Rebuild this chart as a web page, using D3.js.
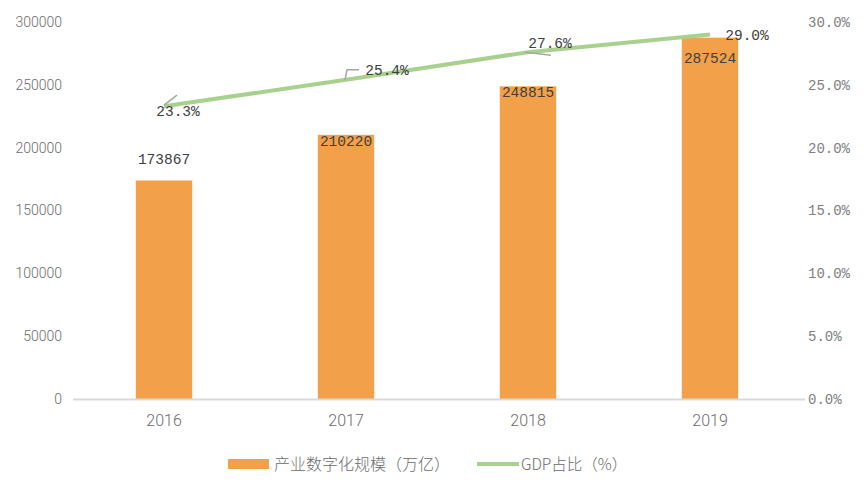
<!DOCTYPE html>
<html><head><meta charset="utf-8">
<script src="https://cdn.jsdelivr.net/npm/d3@7"></script>
<style>body{margin:0;background:#fff;}svg{display:block;}</style>
</head><body>
<svg id="c" width="864" height="493"></svg>
<script>
const years = ["2016","2017","2018","2019"];
const scaleValues = [173867, 210220, 248815, 287524];
const gdpShare = [23.3, 25.4, 27.6, 29.0];
const leftTicks = [0, 50000, 100000, 150000, 200000, 250000, 300000];
const rightTicks = [0, 5, 10, 15, 20, 25, 30];
const seriesNames = ["产业数字化规模（万亿）", "GDP占比（%）"];

const svg = d3.select("#c");
const L = 73, R = 801, T = 22, B = 399;
const x = d3.scaleBand().domain(years).range([L, R]).paddingInner(0.69).paddingOuter(0.345);
const y = d3.scaleLinear().domain([0, 300000]).range([B, T]);
const y2 = d3.scaleLinear().domain([0, 30]).range([B, T]);
const orange = "#F2A14A", green = "#A9D18E", axisCol = "#6b6b6b";
const font = "Roboto, 'Liberation Sans', sans-serif";
const mono = "'Liberation Mono', 'DejaVu Sans Mono', monospace";

// left axis
const la = svg.append("g").attr("transform", `translate(${L},0)`)
  .call(d3.axisLeft(y).tickValues(leftTicks).tickSize(0).tickPadding(11).tickFormat(d3.format("d")));
la.select(".domain").remove();
la.selectAll("text").attr("fill", axisCol).style("font-family", font).style("font-size", "14px").style("font-weight", 300);

// right axis
const ra = svg.append("g").attr("transform", `translate(${805},0)`)
  .call(d3.axisRight(y2).tickValues(rightTicks).tickSize(0).tickPadding(3).tickFormat(d => d3.format(".1f")(d) + "%"));
ra.select(".domain").remove();
ra.selectAll("text").attr("fill", "#808080").style("font-family", mono).style("font-size", "14px");

// bars
svg.append("g").selectAll("rect").data(years).join("rect")
  .attr("x", d => x(d)).attr("width", x.bandwidth())
  .attr("y", (d, i) => y(scaleValues[i])).attr("height", (d, i) => B - y(scaleValues[i]))
  .attr("fill", orange);

// x axis
const xa = svg.append("g").attr("transform", `translate(0,${B})`)
  .call(d3.axisBottom(x).tickSize(0).tickPadding(16));
xa.select(".domain").attr("stroke", "#d9d9d9").attr("stroke-width", 2).attr("d", `M${L},0.5H805`);
xa.selectAll("text").attr("fill", axisCol).style("font-family", font).style("font-size", "16px").style("font-weight", 300);

// line
const cx = d => x(d) + x.bandwidth() / 2;
const line = d3.line().x((d, i) => cx(years[i])).y(d => y2(d));
svg.append("path").datum(gdpShare).attr("d", line)
  .attr("fill", "none").attr("stroke", green).attr("stroke-width", 4).attr("stroke-linecap", "butt");

// bar labels
const barLabelDy = [-17, 11, 11, 25];
svg.append("g").selectAll("text").data(scaleValues).join("text")
  .attr("x", (d, i) => cx(years[i]))
  .attr("y", (d, i) => y(d) + barLabelDy[i])
  .attr("text-anchor", "middle")
  .attr("fill", "#404040").style("font-family", mono).style("font-size", "14.5px")
  .text(d => d);

// line labels with leader lines
const lab = [
  {dx: 14, dy: 10, path: (px, py) => `M${px},${py-1} L${px+13},${py-11}`},
  {dx: 41, dy: -5, path: (px, py) => `M${px-1},${py} L${px+1},${py-10} L${px+13},${py-10}`},
  {dx: 22, dy: -4, path: (px, py) => `M${px-3},${py} L${px+23},${py+3}`},
  {dx: 37, dy: 5, path: null}
];
const lg = svg.append("g");
gdpShare.forEach((v, i) => {
  const px = cx(years[i]), py = y2(v);
  if (lab[i].path) lg.append("path").attr("d", lab[i].path(px, py)).attr("fill", "none").attr("stroke", "#a6a6a6").attr("stroke-width", 1.5);
  lg.append("text").attr("x", px + lab[i].dx).attr("y", py + lab[i].dy)
    .attr("text-anchor", "middle").attr("fill", "#404040")
    .style("font-family", mono).style("font-size", "14.5px")
    .text(d3.format(".1f")(v) + "%");
});

// legend
const leg = svg.append("g");
const cjk = "'Noto Sans CJK SC', sans-serif";
leg.append("rect").attr("x", 228).attr("y", 459).attr("width", 41).attr("height", 10).attr("fill", orange);
leg.append("text").attr("x", 274).attr("y", 470).attr("fill", axisCol)
  .style("font-family", cjk).style("font-size", "16px").style("font-weight", 300).text(seriesNames[0]);
leg.append("line").attr("x1", 477).attr("x2", 519).attr("y1", 464).attr("y2", 464).attr("stroke", green).attr("stroke-width", 4);
leg.append("text").attr("x", 521).attr("y", 470).attr("fill", axisCol)
  .style("font-family", cjk).style("font-size", "15.5px").style("font-weight", 300).text(seriesNames[1]);
</script>
</body></html>
